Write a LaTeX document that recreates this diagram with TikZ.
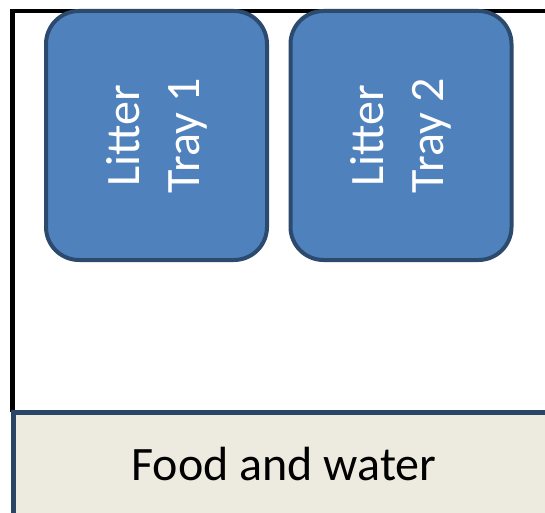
\documentclass[tikz,border=0pt]{standalone}
\usepackage{fontspec}
\setmainfont{Carlito}
\definecolor{trayfill}{HTML}{4F81BD}
\definecolor{trayline}{HTML}{2C4A6E}
\definecolor{bandfill}{HTML}{EDEBE0}
\definecolor{bandline}{HTML}{2B4566}
\tikzset{
  wall/.style={line width=4.5pt, draw=black, miter limit=10},
  traybox/.style={draw=trayline, fill=trayfill, line width=4pt, rounded corners=33pt,
    minimum width=249pt, minimum height=221pt, inner sep=0pt, align=center,
    text=white, font=\fontsize{48}{60}\selectfont, rotate=90},
  band/.style={draw=bandline, fill=bandfill, line width=5pt},
  bandtext/.style={font=\fontsize{48}{56}\selectfont, text=black, inner sep=0pt}
}
\begin{document}
\begin{tikzpicture}[x=1pt,y=1pt]
\useasboundingbox (0,0) rectangle (545,512);
\clip (0,0) rectangle (545,512);
\coordinate (wallbottom) at (12.5,100);
\coordinate (wallcorner) at (12.5,501);
\coordinate (wallright) at (560,501);
\draw[wall] (wallbottom) -- (wallcorner) -- (wallright);
\node[traybox] (t1) at (156.5,376.5) {Litter\\Tray 1};
\node[traybox] (t2) at (401,376.5) {Litter\\Tray 2};
\draw[band] (13,-20) rectangle (570,99.5);
\node[bandtext, anchor=base] (food) at (284,32) {Food and water};
\end{tikzpicture}
\end{document}
